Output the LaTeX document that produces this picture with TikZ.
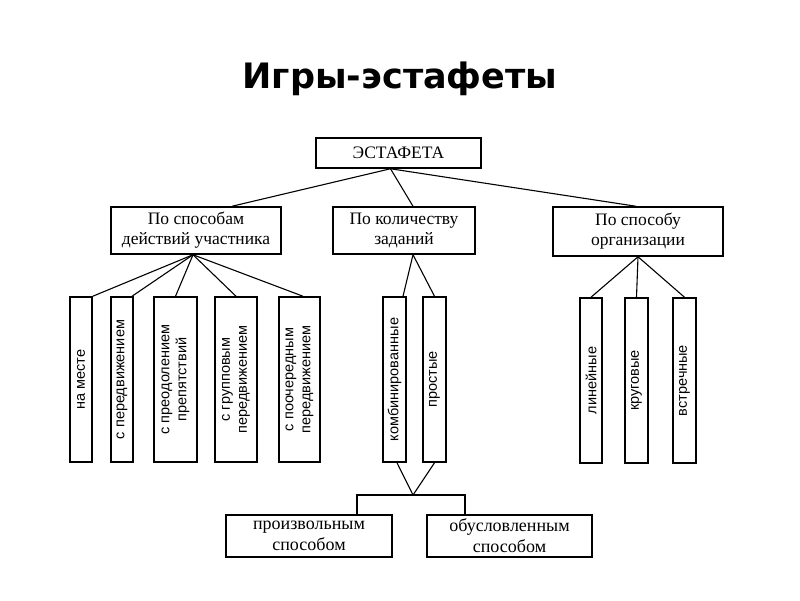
\documentclass[tikz,border=0pt]{standalone}
\usepackage{fontspec}
\setmainfont{Liberation Serif}
\newfontfamily\titlefont{DejaVu Sans}
\newfontfamily\vfont{Liberation Sans}
\begin{document}
\begin{tikzpicture}[x=1pt,y=-1pt,
  hbox/.style={draw, line width=1.5pt, inner sep=0pt, align=center,
    font=\fontsize{17.5}{20}\selectfont},
  vbox/.style={draw, line width=1.5pt, inner sep=0pt, rotate=90, align=center,
    minimum width=165, font=\vfont\fontsize{14.5}{17}\selectfont},
  conn/.style={line width=1.1pt}]
\useasboundingbox (0,0) rectangle (800,600);
\node[font=\titlefont\bfseries\fontsize{35}{40}\selectfont, anchor=base] (title) at (400,88) {Игры-эстафеты};

\node[hbox, minimum width=165, minimum height=30] (E) at (398.5,153) {ЭСТАФЕТА};
\node[hbox, minimum width=170, minimum height=47] (B1) at (196,230.5) {По способам\\действий участника};
\node[hbox, minimum width=142, minimum height=47] (B2) at (404,230.5) {По количеству\\заданий};
\node[hbox, minimum width=170, minimum height=49] (B3) at (638,231.5) {По способу\\организации};

\node[vbox, minimum height=22] (v1) at (81,379.5) {на месте};
\node[vbox, minimum height=22] (v2) at (122,379.5) {с передвижением};
\node[vbox, minimum height=43] (v3) at (175.5,379.5) {с преодолением\\препятствий};
\node[vbox, minimum height=42] (v4) at (236,379.5) {с групповым\\передвижением};
\node[vbox, minimum height=41] (v5) at (299.5,379.5) {с поочередным\\передвижением};

\node[vbox, minimum height=23] (m1) at (394.5,379.5) {комбинированные};
\node[vbox, minimum height=23] (m2) at (434.5,379.5) {простые};

\node[vbox, minimum height=22] (r1) at (591,380.5) {линейные};
\node[vbox, minimum height=23] (r2) at (636.5,380.5) {круговые};
\node[vbox, minimum height=23] (r3) at (684.5,380.5) {встречные};

\node[hbox, minimum width=166, minimum height=42, font=\fontsize{18}{21}\selectfont] (p1) at (309,536) {произвольным\\способом};
\node[hbox, minimum width=165, minimum height=42, font=\fontsize{18}{21}\selectfont] (p2) at (509.5,536) {обусловленным\\способом};

\coordinate (eS) at ([xshift=-8]E.south);
\draw[conn] (eS) -- ([xshift=36]B1.north);
\draw[conn] (eS) -- ([xshift=9]B2.north);
\draw[conn] (eS) -- ([xshift=-2]B3.north);

\coordinate (b1S) at ([xshift=-3]B1.south);
\draw[conn] (b1S) -- (v1.south east);
\draw[conn] (b1S) -- ([xshift=10]v2.east);
\draw[conn] (b1S) -- (v3.east);
\draw[conn] (b1S) -- (v4.east);
\draw[conn] (b1S) -- ([xshift=3.5]v5.east);

\coordinate (b2S) at ([xshift=9]B2.south);
\draw[conn] (b2S) -- ([xshift=8.5]m1.east);
\draw[conn] (b2S) -- (m2.east);

\coordinate (J) at (413,495);
\draw[conn] ([xshift=2.5]m1.west) -- (J);
\draw[conn] (m2.west) -- (J);
\draw[conn] ([xshift=48]p1.north) |- (J) -| ([xshift=-44.5]p2.north);

\draw[conn] (B3.south) -- (r1.east);
\draw[conn] (B3.south) -- (r2.east);
\draw[conn] (B3.south) -- (r3.east);
\end{tikzpicture}
\end{document}
